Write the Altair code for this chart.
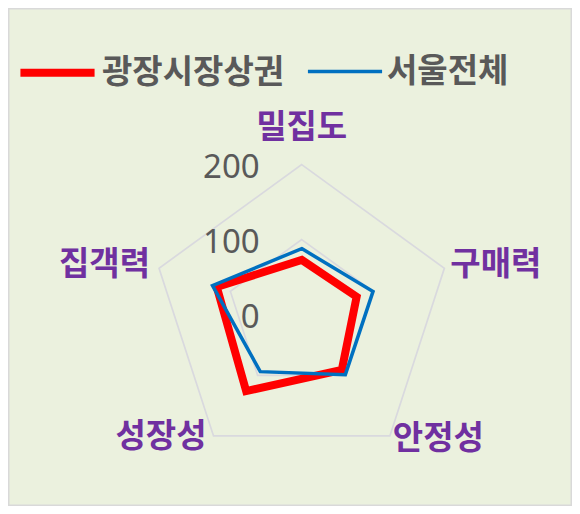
import altair as alt
import pandas as pd

# ---- data ----
categories = ["밀집도", "구매력", "안정성", "성장성", "집객력"]
series_names = ["광장시장상권", "서울전체"]
gwangjang = [73, 77, 91, 126, 119]
seoul = [88, 100, 99, 94, 125]
grid_levels = [100, 200]
tick_values = [0, 100, 200]

rows = []
for i, c in enumerate(categories):
    rows.append({"series": series_names[0], "idx": i, "cat": c, "value": gwangjang[i]})
    rows.append({"series": series_names[1], "idx": i, "cat": c, "value": seoul[i]})
df = pd.DataFrame(rows)
grid_df = pd.DataFrame([{"level": l, "idx": i} for l in grid_levels for i in range(len(categories))])
tick_df = pd.DataFrame({"value": tick_values})
label_df = pd.DataFrame({"cat": categories, "idx": list(range(len(categories)))})

ANG = "PI/2 - 2*PI*datum.idx/5"
xs = alt.Scale(domain=[-391.6, 360.4], nice=False, zero=False)
ys = alt.Scale(domain=[-255.2, 408.8], nice=False, zero=False)


def X(f):
    return alt.X(f, type="quantitative", scale=xs, axis=None)


def Y(f):
    return alt.Y(f, type="quantitative", scale=ys, axis=None)


grid = alt.Chart(grid_df).transform_calculate(
    gx=f"datum.level*cos({ANG})", gy=f"datum.level*sin({ANG})"
).mark_line(interpolate="linear-closed", color="#D9D9DE", strokeWidth=1.7).encode(
    x=X("gx"), y=Y("gy"), detail="level:N", order="idx:Q"
)

leg = alt.Legend(
    title=None, orient="none", legendX=8, legendY=23, direction="horizontal",
    symbolType="stroke", symbolSize=5500, labelFont="Noto Sans CJK KR",
    labelFontSize=33, labelFontWeight="bold", labelColor="#595959",
    labelOffset=3, columnPadding=15, labelLimit=400, padding=0,
)

lines = alt.Chart(df).transform_calculate(
    px=f"datum.value*cos({ANG})", py=f"datum.value*sin({ANG})"
).mark_line(interpolate="linear-closed", strokeJoin="miter").encode(
    x=X("px"), y=Y("py"),
    color=alt.Color("series:N", scale=alt.Scale(domain=series_names, range=["#FF0000", "#0070C0"]), legend=leg),
    strokeWidth=alt.StrokeWidth("series:N", scale=alt.Scale(domain=series_names, range=[8, 3.5]), legend=leg),
    order="idx:Q",
)

ticks = alt.Chart(tick_df).mark_text(
    align="right", baseline="middle", dx=-42, dy=3, fontSize=33,
    font="Noto Sans", color="#595959"
).encode(x=alt.X("zero:Q", scale=xs, axis=None), y=Y("value"), text="value:Q").transform_calculate(zero="0")

label_pos = [
    ("center", 0, -37),
    ("left", 6, -3),
    ("left", 3, 3),
    ("right", -7, 1.5),
    ("right", -9, -3),
]
label_layers = []
for i, (al, ddx, ddy) in enumerate(label_pos):
    label_layers.append(
        alt.Chart(label_df).transform_filter(f"datum.idx == {i}").transform_calculate(
            lx=f"200*cos({ANG})", ly=f"200*sin({ANG})"
        ).mark_text(
            align=al, baseline="middle", dx=ddx, dy=ddy, fontSize=33,
            font="Noto Sans CJK KR", fontWeight="bold", color="#7030A0"
        ).encode(x=X("lx"), y=Y("ly"), text="cat:N")
    )

chart = alt.layer(grid, lines, ticks, *label_layers).properties(
    width=564, height=498, autosize=alt.AutoSizeParams(type="none"), padding=0,
    background="#EBF1DE",
).configure_view(stroke="#D9D9D9", strokeWidth=3)

chart.save("out.html", embed_options={"renderer": "svg", "actions": False})
